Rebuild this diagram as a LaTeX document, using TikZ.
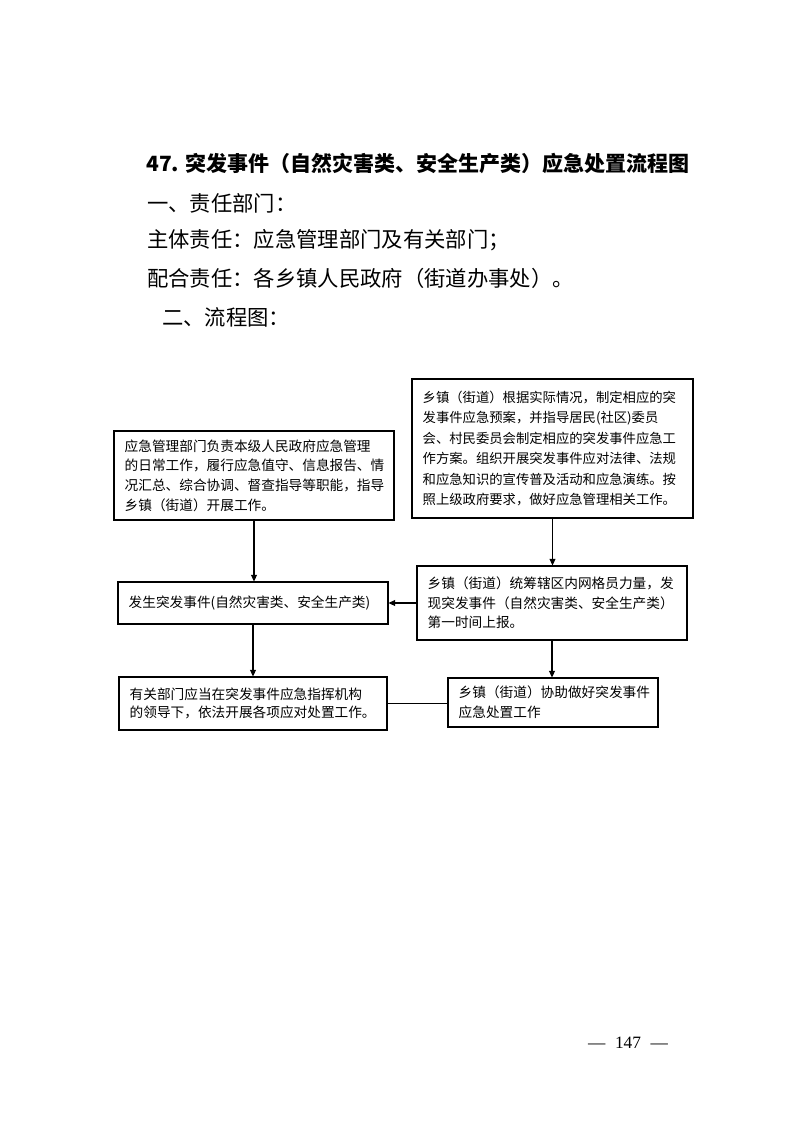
\documentclass[tikz,border=0pt]{standalone}
\usepackage{fontspec}
\setmainfont{Noto Sans CJK SC}
\newfontfamily\latinserif{Liberation Serif}
\usetikzlibrary{arrows.meta}
\tikzset{
  flowbox/.style={draw, line width=0.8pt, inner xsep=8pt, inner ysep=2pt, align=left, anchor=center,
    font=\fontsize{10.25}{14.75}\selectfont},
  headtext/.style={anchor=west, inner sep=0pt, font=\fontsize{16}{20}\selectfont},
  flowarrow/.style={line width=0.8pt, -{Triangle[length=5pt,width=4.5pt]}},
  flowline/.style={line width=0.8pt}
}
\begin{document}
\begin{tikzpicture}[x=0.75pt,y=-0.75pt]
\useasboundingbox (0,0) rectangle (793,1122);
% header
\node[headtext, font=\fontsize{15.75}{20}\selectfont\bfseries] (title) at (146,164) {47. 突发事件（自然灾害类、安全生产类）应急处置流程图};
\node[headtext] (h1) at (147,203) {一、责任部门：};
\node[headtext] (h2) at (147,240) {主体责任：应急管理部门及有关部门；};
\node[headtext] (h3) at (147,278) {配合责任：各乡镇人民政府（街道办事处）。};
\node[headtext] (h4) at (162,317) {二、流程图：};
% boxes
\node[flowbox, minimum width=210pt, minimum height=66.75pt, text width=194pt] (A) at (254,475.5)
 {应急管理部门负责本级人民政府应急管理\\的日常工作，履行应急值守、信息报告、情\\况汇总、综合协调、督查指导等职能，指导\\乡镇（街道）开展工作。};
\node[flowbox, minimum width=210.75pt, minimum height=104.25pt, text width=194.75pt,
  font=\fontsize{10}{15.3}\selectfont] (B) at (552.5,448.5)
 {乡镇（街道）根据实际情况，制定相应的突\\发事件应急预案，并指导居民(社区)委员\\会、村民委员会制定相应的突发事件应急工\\作方案。组织开展突发事件应对法律、法规\\和应急知识的宣传普及活动和应急演练。按\\照上级政府要求，做好应急管理相关工作。};
\node[flowbox, minimum width=202.5pt, minimum height=31.5pt, text width=186.5pt] (C) at (253,603)
 {发生突发事件(自然灾害类、安全生产类)};
\node[flowbox, minimum width=202.5pt, minimum height=55.5pt, text width=186.5pt] (D) at (552,603)
 {乡镇（街道）统筹辖区内网格员力量，发\\现突发事件（自然灾害类、安全生产类）\\第一时间上报。};
\node[flowbox, minimum width=201pt, minimum height=39.75pt, text width=185pt, font=\fontsize{10.25}{14}\selectfont] (E) at (253,703.5)
 {有关部门应当在突发事件应急指挥机构\\的领导下，依法开展各项应对处置工作。};
\node[flowbox, minimum width=157.5pt, minimum height=36.75pt, text width=141.5pt, font=\fontsize{10.25}{15}\selectfont] (F) at (553,702.5)
 {乡镇（街道）协助做好突发事件\\应急处置工作};
% connectors
\draw[flowarrow] (A.south) -- (A.south |- C.north);
\draw[flowarrow] (B.south) -- (B.south |- D.north);
\draw[flowarrow] (D.west) -- (C.east);
\draw[flowarrow] (C.south) -- (C.south |- E.north);
\draw[flowarrow] (D.south) -- (D.south |- F.north);
\draw[flowline] (E.east) -- (E.east -| F.west);
% page number
\node[inner sep=0pt, font=\latinserif\fontsize{13}{15}\selectfont] (pg) at (628,1043) {—\hspace{0.55em}147\hspace{0.55em}—};
\end{tikzpicture}
\end{document}
